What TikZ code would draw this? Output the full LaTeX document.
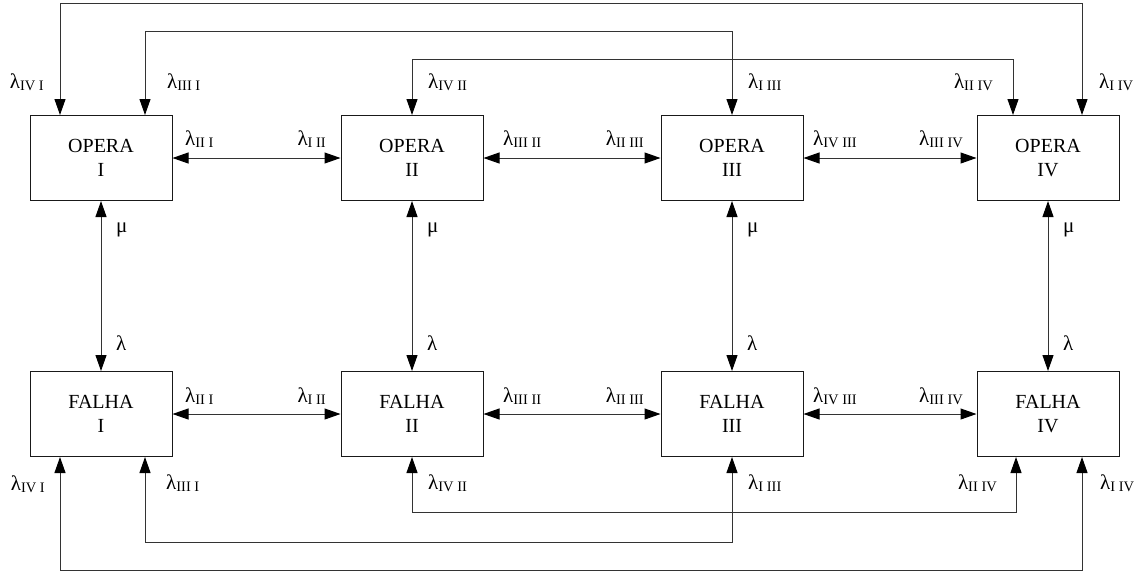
\documentclass[tikz,border=0pt]{standalone}
\usepackage{fontspec}
\setmainfont{Liberation Serif}
\usetikzlibrary{arrows.meta}
\newcommand\lsub[1]{{\fontsize{21}{22}\selectfont λ}\raisebox{-2.5pt}{\fontsize{14.5}{14.5}\selectfont #1}}
\tikzset{
  state/.style={draw=black!90, line width=1pt, minimum width=142pt, minimum height=85pt, inner sep=0pt, align=center, font=\fontsize{20}{24}\selectfont},
  conn/.style={draw=black!80, line width=1pt, {Triangle[length=16pt,width=11pt,color=black]}-{Triangle[length=16pt,width=11pt,color=black]}},
  lab/.style={inner sep=0pt, font=\fontsize{21}{22}\selectfont}
}
\begin{document}
\begin{tikzpicture}[x=1pt,y=-1pt]
\useasboundingbox (0,0) rectangle (1142,574);
% states
\node[state] (o1) at (101,158) {OPERA\\I};
\node[state] (o2) at (412,158) {OPERA\\II};
\node[state] (o3) at (732,158) {OPERA\\III};
\node[state] (o4) at (1048,158) {OPERA\\IV};
\node[state] (f1) at (101,414) {FALHA\\I};
\node[state] (f2) at (412,414) {FALHA\\II};
\node[state] (f3) at (732,414) {FALHA\\III};
\node[state] (f4) at (1048,414) {FALHA\\IV};
% routing coordinates
\coordinate (t1) at (60,3);
\coordinate (t2) at (145,31);
\coordinate (t3) at (412,59);
\coordinate (b1) at (60,570);
\coordinate (b2) at (145,542);
\coordinate (b3) at (412,512);
% horizontal connectors
\draw[conn] (o1) -- (o2);
\draw[conn] (o2) -- (o3);
\draw[conn] (o3) -- (o4);
\draw[conn] (f1) -- (f2);
\draw[conn] (f2) -- (f3);
\draw[conn] (f3) -- (f4);
% vertical connectors
\draw[conn] (o1) -- (f1);
\draw[conn] (o2) -- (f2);
\draw[conn] (o3) -- (f3);
\draw[conn] (o4) -- (f4);
% top long connectors
\draw[conn] ([xshift=-41pt]o1.north) -- (t1) -| ([xshift=34pt]o4.north);
\draw[conn] ([xshift=44pt]o1.north) -- (t2) -| (o3.north);
\draw[conn] (o2.north) -- (t3) -| ([xshift=-35pt]o4.north);
% bottom long connectors
\draw[conn] ([xshift=-41pt]f1.south) -- (b1) -| ([xshift=34pt]f4.south);
\draw[conn] ([xshift=44pt]f1.south) -- (b2) -| (f3.south);
\draw[conn] (f2.south) -- (b3) -| ([xshift=-32pt]f4.south);
% top labels
\node[lab, anchor=base east] (l1) at (44,88) {\lsub{IV I}};
\node[lab, anchor=base west] (l2) at (167,88) {\lsub{III I}};
\node[lab, anchor=base west] (l3) at (428,88) {\lsub{IV II}};
\node[lab, anchor=base west] (l4) at (748,88) {\lsub{I III}};
\node[lab, anchor=base east] (l5) at (993,88) {\lsub{II IV}};
\node[lab, anchor=base west] (l6) at (1099,88) {\lsub{I IV}};
% top row horizontal labels
\node[lab, anchor=base west] (h1) at (185,145) {\lsub{II I}};
\node[lab, anchor=base east] (h2) at (326,145) {\lsub{I II}};
\node[lab, anchor=base west] (h3) at (503,145) {\lsub{III II}};
\node[lab, anchor=base east] (h4) at (644,145) {\lsub{II III}};
\node[lab, anchor=base west] (h5) at (813,145) {\lsub{IV III}};
\node[lab, anchor=base east] (h6) at (963,145) {\lsub{III IV}};
% bottom row horizontal labels
\node[lab, anchor=base west] (g1) at (185,402) {\lsub{II I}};
\node[lab, anchor=base east] (g2) at (326,402) {\lsub{I II}};
\node[lab, anchor=base west] (g3) at (503,402) {\lsub{III II}};
\node[lab, anchor=base east] (g4) at (644,402) {\lsub{II III}};
\node[lab, anchor=base west] (g5) at (813,402) {\lsub{IV III}};
\node[lab, anchor=base east] (g6) at (963,402) {\lsub{III IV}};
% bottom labels
\node[lab, anchor=base east] (k1) at (45,490) {\lsub{IV I}};
\node[lab, anchor=base west] (k2) at (166,489) {\lsub{III I}};
\node[lab, anchor=base west] (k3) at (428,489) {\lsub{IV II}};
\node[lab, anchor=base west] (k4) at (748,489) {\lsub{I III}};
\node[lab, anchor=base east] (k5) at (997,489) {\lsub{II IV}};
\node[lab, anchor=base west] (k6) at (1100,489) {\lsub{I IV}};
% mu / lambda labels
\foreach \x/\n in {101/1,412/2,732/3,1048/4}{
  \node[lab, anchor=base west] (mu\n) at (\x+15,232) {μ};
  \node[lab, anchor=base west] (la\n) at (\x+15,350) {λ};
}
\end{tikzpicture}
\end{document}
